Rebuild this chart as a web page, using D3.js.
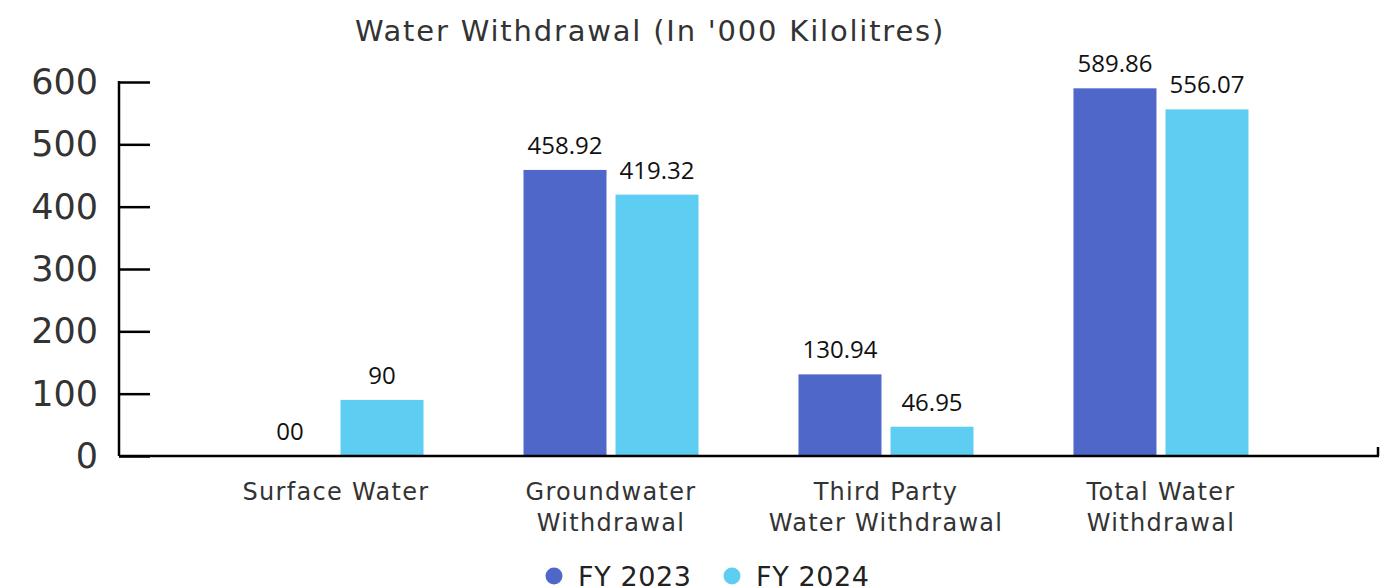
<!DOCTYPE html>
<html>
<head>
  <meta charset="utf-8">
  <title>Water Withdrawal</title>
  <style>
    body { margin: 0; background: #ffffff; }
    text { font-family: "DejaVu Sans", sans-serif; }
    .value { font-family: "Open Sans", sans-serif; font-size: 24px; fill: #111; text-anchor: middle; }
  </style>
</head>
<body>
  <div id="chart"></div>
  <script src="https://d3js.org/d3.v7.min.js"></script>
  <script>
  // data
  var categories = [["Surface Water"], ["Groundwater", "Withdrawal"], ["Third Party", "Water Withdrawal"], ["Total Water", "Withdrawal"]]
  var seriesNames = ["FY 2023", "FY 2024"]
  var fy2023 = [0, 458.92, 130.94, 589.86]
  var fy2024 = [90, 419.32, 46.95, 556.07]
  var labels2023 = ["00", "458.92", "130.94", "589.86"]
  var labels2024 = ["90", "419.32", "46.95", "556.07"]
  var yTicks = [0, 100, 200, 300, 400, 500, 600]
  var colors = ["#4f67c8", "#5ecdf2"]

  var width = 1394, height = 588

  var svg = d3.select("#chart").append("svg")
      .attr("width", width)
      .attr("height", height)

  var x0 = d3.scaleBand()
      .domain(d3.range(categories.length))
      .range([119, 1378])
      .paddingInner(0.3636)
      .paddingOuter(0.471)

  var x1 = d3.scaleBand()
      .domain(d3.range(seriesNames.length))
      .range([0, x0.bandwidth()])
      .paddingInner(0.098)

  var y = d3.scaleLinear().domain([0, 600]).range([456, 82])

  // title
  svg.append("text")
      .attr("x", 650).attr("y", 41)
      .attr("text-anchor", "middle")
      .style("font-size", "29px")
      .style("letter-spacing", "1.8px")
      .style("fill", "#333")
      .text("Water Withdrawal (In '000 Kilolitres)")

  // y axis
  var yAxis = svg.append("g")
      .attr("transform", "translate(119,0)")
      .call(d3.axisRight(y).tickValues(yTicks).tickSize(31).tickFormat(""))
  yAxis.select(".domain").remove()
  yAxis.selectAll(".tick line").attr("stroke", "#000").attr("stroke-width", 2.5)

  svg.append("line")
      .attr("x1", 119).attr("x2", 119)
      .attr("y1", y(600) - 1).attr("y2", y(0))
      .attr("stroke", "#000").attr("stroke-width", 2.5)

  svg.selectAll(".ylab")
      .data(yTicks).enter().append("text")
      .attr("class", "ylab")
      .attr("x", 98)
      .attr("y", function (d) { return y(d) + 12 })
      .attr("text-anchor", "end")
      .style("font-size", "35px")
      .style("fill", "#333")
      .text(function (d) { return d })

  // bars
  var rows = categories.map(function (c, i) {
    return [
      { i: i, s: 0, v: fy2023[i], label: labels2023[i] },
      { i: i, s: 1, v: fy2024[i], label: labels2024[i] }
    ]
  })

  var groups = svg.selectAll(".group")
      .data(rows).enter().append("g")
      .attr("class", "group")
      .attr("transform", function (d, i) { return "translate(" + x0(i) + ",0)" })

  groups.selectAll("rect")
      .data(function (d) { return d }).enter().append("rect")
      .attr("x", function (d) { return x1(d.s) })
      .attr("y", function (d) { return y(d.v) })
      .attr("width", x1.bandwidth())
      .attr("height", function (d) { return y(0) - y(d.v) })
      .attr("fill", function (d) { return colors[d.s] })

  groups.selectAll(".value")
      .data(function (d) { return d }).enter().append("text")
      .attr("class", "value")
      .attr("x", function (d) { return x1(d.s) + x1.bandwidth() / 2 })
      .attr("y", function (d) { return y(d.v) - 16 })
      .text(function (d) { return d.label })

  // x axis line
  svg.append("line")
      .attr("x1", 119).attr("x2", 1379)
      .attr("y1", y(0)).attr("y2", y(0))
      .attr("stroke", "#000").attr("stroke-width", 2.5)
  svg.append("line")
      .attr("x1", 1378).attr("x2", 1378)
      .attr("y1", y(0)).attr("y2", y(0) - 9)
      .attr("stroke", "#000").attr("stroke-width", 2.5)

  // category labels
  var cat = svg.selectAll(".cat")
      .data(categories).enter().append("text")
      .attr("class", "cat")
      .attr("text-anchor", "middle")
      .style("font-size", "24px")
      .style("letter-spacing", "1.3px")
      .style("fill", "#333")
  cat.selectAll("tspan")
      .data(function (d, i) { return d.map(function (t) { return { t: t, i: i } }) })
      .enter().append("tspan")
      .attr("x", function (d) { return x0(d.i) + x0.bandwidth() / 2 })
      .attr("y", function (d, j) { return 500 + j * 31 })
      .text(function (d) { return d.t })

  // legend
  var legend = svg.selectAll(".legend")
      .data(seriesNames).enter().append("g")
      .attr("class", "legend")
      .attr("transform", function (d, i) { return "translate(" + (554 + i * 178) + ",576)" })
  legend.append("circle")
      .attr("r", 8.5)
      .attr("fill", function (d, i) { return colors[i] })
  legend.append("text")
      .attr("x", 24).attr("y", 10)
      .style("font-size", "27px")
      .style("letter-spacing", "0.6px")
      .style("fill", "#222")
      .text(function (d) { return d })
  </script>
</body>
</html>
